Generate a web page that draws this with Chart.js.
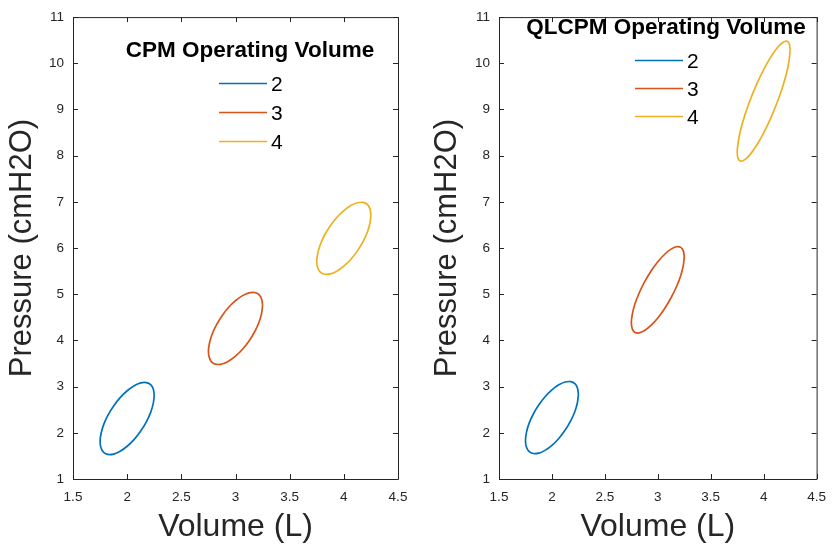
<!DOCTYPE html>
<html>
<head>
<meta charset="utf-8">
<script src="https://cdn.jsdelivr.net/npm/chart.js@4/dist/chart.umd.min.js"></script>
<style>
  html, body { margin: 0; padding: 0; background: #ffffff; }
  #wrap { position: relative; width: 836px; height: 550px; }
  .panel { position: absolute; top: 0; width: 418px; height: 550px; }
  #left { left: 0; }
  #right { left: 418px; }
</style>
</head>
<body>
<div id="wrap">
  <div class="panel" id="left"><canvas id="cpm" width="418" height="550"></canvas></div>
  <div class="panel" id="right"><canvas id="qlcpm" width="418" height="550"></canvas></div>
</div>
<script>
// Axis ticks
const volumeTicks = [1.5, 2, 2.5, 3, 3.5, 4, 4.5];
const pressureTicks = [1, 2, 3, 4, 5, 6, 7, 8, 9, 10, 11];
const volumeLabels = ['2', '3', '4'];

// CPM pressure-volume loops
const cpm2X = [2.250, 2.241, 2.217, 2.177, 2.125, 2.065, 2.000, 1.935, 1.875, 1.823, 1.783, 1.759, 1.750, 1.759, 1.783, 1.823, 1.875, 1.935, 2.000, 2.065, 2.125, 2.177, 2.217, 2.241];
const cpm2Y = [2.809, 2.948, 3.043, 3.088, 3.080, 3.020, 2.911, 2.762, 2.581, 2.382, 2.178, 1.984, 1.811, 1.672, 1.577, 1.532, 1.540, 1.600, 1.709, 1.858, 2.039, 2.238, 2.442, 2.636];
const cpm3X = [3.250, 3.241, 3.217, 3.177, 3.125, 3.065, 3.000, 2.935, 2.875, 2.823, 2.783, 2.759, 2.750, 2.759, 2.783, 2.823, 2.875, 2.935, 3.000, 3.065, 3.125, 3.177, 3.217, 3.241];
const cpm3Y = [4.759, 4.898, 4.993, 5.038, 5.030, 4.970, 4.861, 4.712, 4.531, 4.332, 4.128, 3.934, 3.761, 3.622, 3.527, 3.482, 3.490, 3.550, 3.659, 3.808, 3.989, 4.188, 4.392, 4.586];
const cpm4X = [4.250, 4.241, 4.217, 4.177, 4.125, 4.065, 4.000, 3.935, 3.875, 3.823, 3.783, 3.759, 3.750, 3.759, 3.783, 3.823, 3.875, 3.935, 4.000, 4.065, 4.125, 4.177, 4.217, 4.241];
const cpm4Y = [6.709, 6.848, 6.943, 6.988, 6.980, 6.920, 6.811, 6.662, 6.481, 6.282, 6.078, 5.884, 5.711, 5.572, 5.477, 5.432, 5.440, 5.500, 5.609, 5.758, 5.939, 6.138, 6.342, 6.536];

// QLCPM pressure-volume loops
const qlcpm2X = [2.250, 2.241, 2.217, 2.177, 2.125, 2.065, 2.000, 1.935, 1.875, 1.823, 1.783, 1.759, 1.750, 1.759, 1.783, 1.823, 1.875, 1.935, 2.000, 2.065, 2.125, 2.177, 2.217, 2.241];
const qlcpm2Y = [2.829, 2.968, 3.063, 3.108, 3.100, 3.040, 2.931, 2.782, 2.601, 2.402, 2.198, 2.004, 1.831, 1.692, 1.597, 1.552, 1.560, 1.620, 1.729, 1.878, 2.059, 2.258, 2.462, 2.656];
const qlcpm3X = [3.250, 3.241, 3.217, 3.177, 3.125, 3.065, 3.000, 2.935, 2.875, 2.823, 2.783, 2.759, 2.750, 2.759, 2.783, 2.823, 2.875, 2.935, 3.000, 3.065, 3.125, 3.177, 3.217, 3.241];
const qlcpm3Y = [5.806, 5.939, 6.015, 6.028, 5.977, 5.866, 5.703, 5.498, 5.266, 5.022, 4.783, 4.565, 4.384, 4.251, 4.175, 4.162, 4.213, 4.324, 4.487, 4.692, 4.924, 5.168, 5.407, 5.625];
const qlcpm4X = [4.250, 4.241, 4.217, 4.177, 4.125, 4.065, 4.000, 3.935, 3.875, 3.823, 3.783, 3.759, 3.750, 3.759, 3.783, 3.823, 3.875, 3.935, 4.000, 4.065, 4.125, 4.177, 4.217, 4.241];
const qlcpm4Y = [10.285, 10.424, 10.480, 10.445, 10.326, 10.128, 9.865, 9.556, 9.221, 8.883, 8.565, 8.290, 8.075, 7.936, 7.880, 7.915, 8.034, 8.232, 8.495, 8.804, 9.139, 9.477, 9.795, 10.070];

const loopColors = ['#0072BD', '#D95319', '#EDB120'];
const AXIS = '#262626';
const FONT = '"Liberation Sans", Arial, Helvetica, sans-serif';

// closed loop: repeat the first point at the end
function loop(xs, ys) {
  const pts = xs.map((x, i) => ({ x: x, y: ys[i] }));
  pts.push({ x: xs[0], y: ys[0] });
  return pts;
}

function datasets(loops) {
  return loops.map((l, i) => ({
    label: volumeLabels[i],
    data: loop(l[0], l[1]),
    showLine: true,
    borderColor: loopColors[i],
    backgroundColor: loopColors[i],
    borderWidth: 1.7,
    pointRadius: 0,
    tension: 0.33,
    fill: false
  }));
}

// box around the axes with inward tick marks on all four sides
const axesBox = {
  id: 'axesBox',
  afterDatasetsDraw(chart) {
    const { ctx, chartArea: a, scales } = chart;
    const len = 5;
    ctx.save();
    ctx.strokeStyle = AXIS;
    ctx.lineWidth = 1;
    ctx.beginPath();
    ctx.rect(a.left + 0.5, a.top + 0.5, a.right - a.left, a.bottom - a.top);
    scales.x.ticks.forEach(t => {
      const p = Math.round(scales.x.getPixelForValue(t.value)) + 0.5;
      ctx.moveTo(p, a.bottom); ctx.lineTo(p, a.bottom - len);
      ctx.moveTo(p, a.top); ctx.lineTo(p, a.top + len);
    });
    scales.y.ticks.forEach(t => {
      const p = Math.round(scales.y.getPixelForValue(t.value)) + 0.5;
      ctx.moveTo(a.left, p); ctx.lineTo(a.left + len, p);
      ctx.moveTo(a.right, p); ctx.lineTo(a.right - len, p);
    });
    ctx.stroke();
    ctx.restore();
  }
};

// legend with a bold title, drawn inside the axes
const innerLegend = {
  id: 'innerLegend',
  afterDraw(chart, args, opts) {
    const { ctx } = chart;
    ctx.save();
    ctx.fillStyle = '#000000';
    ctx.textBaseline = 'middle';
    ctx.textAlign = 'center';
    ctx.font = 'bold ' + opts.titleSize + 'px ' + FONT;
    ctx.fillText(opts.title, opts.titleX, opts.titleY);
    ctx.textAlign = 'left';
    ctx.font = '21px ' + FONT;
    chart.data.datasets.forEach((ds, i) => {
      const y = opts.rows[i];
      ctx.strokeStyle = ds.borderColor;
      ctx.lineWidth = 1.6;
      ctx.beginPath();
      ctx.moveTo(opts.lineX0, y - 1.5);
      ctx.lineTo(opts.lineX1, y - 1.5);
      ctx.stroke();
      ctx.fillText(ds.label, opts.lineX1 + 4, y);
    });
    ctx.restore();
  }
};

function makeChart(id, loops, cfg) {
  return new Chart(document.getElementById(id), {
    type: 'scatter',
    data: { datasets: datasets(loops) },
    options: {
      responsive: false,
      devicePixelRatio: 1,
      animation: false,
      layout: { padding: { left: 0, top: 15, right: cfg.padRight, bottom: 0 } },
      plugins: {
        legend: { display: false },
        tooltip: { enabled: false },
        innerLegend: cfg.legend
      },
      scales: {
        x: {
          type: 'linear',
          min: 1.5, max: 4.5,
          afterBuildTicks: s => { s.ticks = volumeTicks.map(v => ({ value: v })); },
          afterFit: s => { s.height = 71; },
          grid: { display: false, drawTicks: false },
          border: { display: false },
          ticks: { padding: 10, color: AXIS, font: { family: FONT, size: 13.5 }, maxRotation: 0, autoSkip: false,
                   callback: v => String(v) },
          title: { display: true, text: 'Volume (L)', color: AXIS, padding: { top: 0, bottom: 7 },
                   font: { family: FONT, size: 32, lineHeight: 1 } }
        },
        y: {
          type: 'linear',
          min: 1, max: 11,
          afterBuildTicks: s => { s.ticks = pressureTicks.map(v => ({ value: v })); },
          afterFit: s => { s.width = cfg.yWidth; },
          grid: { display: false, drawTicks: false },
          border: { display: false },
          ticks: { padding: 9, color: AXIS, font: { family: FONT, size: 13.5 }, autoSkip: false,
                   callback: v => String(v) },
          title: { display: true, text: 'Pressure (cmH2O)', color: AXIS, padding: { top: cfg.yTitlePad, bottom: 0 },
                   font: { family: FONT, size: 31, lineHeight: 1 } }
        }
      }
    },
    plugins: [axesBox, innerLegend]
  });
}

makeChart('cpm', [[cpm2X, cpm2Y], [cpm3X, cpm3Y], [cpm4X, cpm4Y]], {
  padRight: 20, yWidth: 73, yTitlePad: 7,
  legend: { title: 'CPM Operating Volume', titleSize: 22.5, titleX: 250, titleY: 51,
            lineX0: 219, lineX1: 267, rows: [85, 114, 143] }
});

makeChart('qlcpm', [[qlcpm2X, qlcpm2Y], [qlcpm3X, qlcpm3Y], [qlcpm4X, qlcpm4Y]], {
  padRight: 12, yWidth: 81, yTitlePad: 14,
  legend: { title: 'QLCPM Operating Volume', titleSize: 22.5, titleX: 248, titleY: 28,
            lineX0: 217, lineX1: 265, rows: [62, 90, 118] }
});
</script>
</body>
</html>
